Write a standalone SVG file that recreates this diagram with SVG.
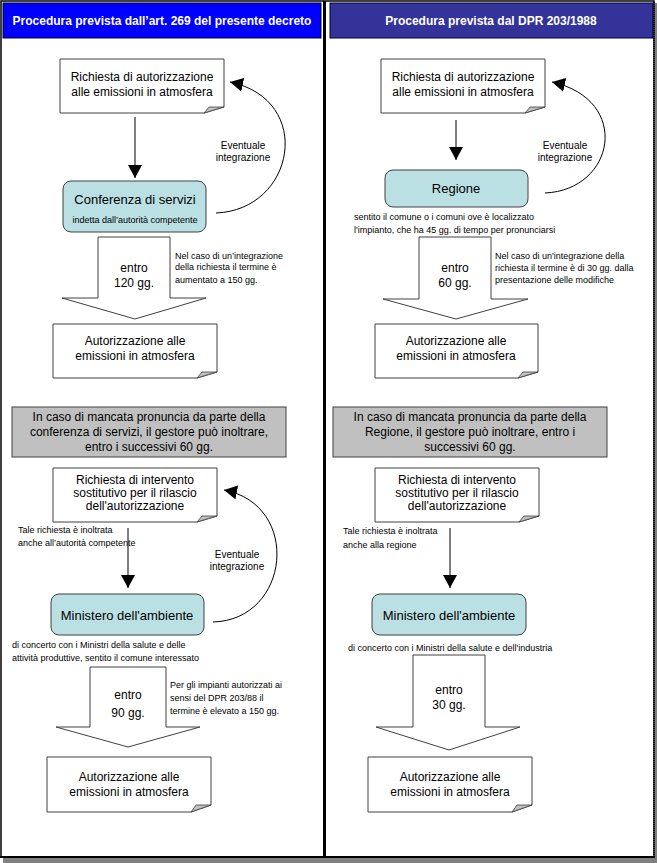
<svg xmlns="http://www.w3.org/2000/svg" width="657" height="863" viewBox="0 0 657 863">
<defs>
<style>
.t{font-family:"Liberation Sans",Arial,sans-serif;fill:#000;}
.box{font-size:12px;text-anchor:middle;}
.note{font-size:9px;}
.ttl{font-family:"Liberation Sans",Arial,sans-serif;font-size:12px;font-weight:bold;fill:#fff;text-anchor:middle;}
.doc{fill:#fff;stroke:#404040;stroke-width:1;}
.curl{fill:#c0c0c0;stroke:#404040;stroke-width:0.8;}
.org{fill:#bbe0e3;stroke:#404040;stroke-width:1;}
.gray{fill:#c0c0c0;stroke:#404040;stroke-width:1;}
.blk{fill:#fff;stroke:#404040;stroke-width:1;}
.ln{fill:none;stroke:#000;stroke-width:1;}
</style>
<marker id="ah" markerUnits="userSpaceOnUse" markerWidth="14" markerHeight="14" viewBox="0 0 14 14" refX="13" refY="7" orient="auto">
<path d="M0,0 L13,7 L0,14 Z" fill="#000"/>
</marker>
</defs>
<rect x="0" y="0" width="657" height="863" fill="#fff"/>
<rect x="3" y="858" width="654" height="5" fill="#808080"/>
<rect x="655" y="3" width="2" height="860" fill="#808080"/>
<g id="frame">
<rect x="1" y="1" width="653" height="856" fill="none" stroke="#000" stroke-width="1.5"/>
<line x1="324.5" y1="1" x2="324.5" y2="857" stroke="#000" stroke-width="3"/>
<line x1="654" y1="2" x2="654" y2="857" stroke="#000" stroke-width="1.5" stroke-dasharray="1,1"/>
<line x1="0" y1="857" x2="655" y2="857" stroke="#000" stroke-width="2"/>
</g>
<g id="header-left">
<rect x="3" y="3" width="318" height="35" fill="#0000ff" stroke="#000033" stroke-width="1"/>
<text class="ttl" x="162" y="25">Procedura prevista dall’art. 269 del presente decreto</text>
</g>
<g id="header-right">
<rect x="330" y="3" width="323" height="35" fill="#333399" stroke="#000033" stroke-width="1"/>
<text class="ttl" x="491" y="25">Procedura prevista dal DPR 203/1988</text>
</g>

<g id="connectors">
<line class="ln" x1="135" y1="117" x2="135" y2="178" marker-end="url(#ah)"/>
<path class="ln" d="M216,213 C295,210 315,100 230,82" marker-end="url(#ah)"/>
<line class="ln" x1="456" y1="120" x2="456" y2="160" marker-end="url(#ah)"/>
<path class="ln" d="M545,193 C615,190 632,100 552,82" marker-end="url(#ah)"/>
<line class="ln" x1="128" y1="528" x2="128" y2="588" marker-end="url(#ah)"/>
<path class="ln" d="M213,622 C290,620 302,505 224,490" marker-end="url(#ah)"/>
<line class="ln" x1="450" y1="528" x2="450" y2="588" marker-end="url(#ah)"/>
</g>

<g id="l-richiesta">
<path class="doc" d="M60,59 H224 V107 L204,113 H60 Z"/>
<path class="curl" d="M204,113 L209,107 L224,107 Z"/>
<text class="t box" x="142" y="81">Richiesta di autorizzazione</text>
<text class="t box" x="142" y="96">alle emissioni in atmosfera</text>
</g>
<g id="l-eventuale1">
<text class="t box" x="243" y="149" style="font-size:10px">Eventuale</text>
<text class="t box" x="243" y="161" style="font-size:10px">integrazione</text>
</g>
<g id="l-conferenza">
<rect class="org" x="63" y="181" width="143" height="51" rx="8"/>
<text class="t box" x="135" y="204" style="font-size:13px">Conferenza di servizi</text>
<text class="t box" x="135" y="223" style="font-size:9px">indetta dall’autorità competente</text>
</g>
<g id="l-entro120">
<path class="blk" d="M98,237 H170 V298 H206 L135,319 L62,298 H98 Z"/>
<text class="t box" x="134" y="272">entro</text>
<text class="t box" x="134" y="287">120 gg.</text>
</g>
<g id="l-note1">
<text class="t note" x="175" y="259">Nel caso di un’integrazione</text>
<text class="t note" x="175" y="270">della richiesta il termine è</text>
<text class="t note" x="175" y="283">aumentato a 150 gg.</text>
</g>
<g id="l-autorizzazione1">
<path class="doc" d="M53,324 H217 V372 L197,378 H53 Z"/>
<path class="curl" d="M197,378 L202,372 L217,372 Z"/>
<text class="t box" x="135" y="345">Autorizzazione alle</text>
<text class="t box" x="135" y="360">emissioni in atmosfera</text>
</g>
<g id="l-mancata">
<rect class="gray" x="12" y="407" width="274" height="50"/>
<text class="t box" x="149" y="421">In caso di mancata pronuncia da parte della</text>
<text class="t box" x="149" y="436">conferenza di servizi, il gestore può inoltrare,</text>
<text class="t box" x="149" y="451">entro i successivi 60 gg.</text>
</g>
<g id="l-intervento">
<path class="doc" d="M53,468 H217 V516 L197,522 H53 Z"/>
<path class="curl" d="M197,522 L202,516 L217,516 Z"/>
<text class="t box" x="135" y="484">Richiesta di intervento</text>
<text class="t box" x="135" y="497">sostitutivo per il rilascio</text>
<text class="t box" x="135" y="510">dell'autorizzazione</text>
</g>
<g id="l-tale">
<text class="t note" x="18" y="533">Tale richiesta è inoltrata</text>
<text class="t note" x="18" y="546">anche all’autorità competente</text>
</g>
<g id="l-eventuale2">
<text class="t box" x="237" y="558" style="font-size:10px">Eventuale</text>
<text class="t box" x="237" y="570" style="font-size:10px">integrazione</text>
</g>
<g id="l-ministero">
<rect class="org" x="51" y="594" width="153" height="41" rx="8"/>
<text class="t box" x="127" y="620" style="font-size:13px">Ministero dell'ambiente</text>
</g>
<g id="l-concerto">
<text class="t note" x="12" y="648">di concerto con i Ministri della salute e delle</text>
<text class="t note" x="12" y="661">attività produttive, sentito il comune interessato</text>
</g>
<g id="l-entro90">
<path class="blk" d="M90,667 H166 V727 H200 L128,747 L56,727 H90 Z"/>
<text class="t box" x="128" y="699">entro</text>
<text class="t box" x="128" y="717">90 gg.</text>
</g>
<g id="l-note2">
<text class="t note" x="170" y="688">Per gli impianti autorizzati ai</text>
<text class="t note" x="170" y="701">sensi del DPR 203/88 il</text>
<text class="t note" x="170" y="714">termine è elevato a 150 gg.</text>
</g>
<g id="l-autorizzazione2">
<path class="doc" d="M47,757 H211 V805 L191,812 H47 Z"/>
<path class="curl" d="M191,812 L196,805 L211,805 Z"/>
<text class="t box" x="129" y="781">Autorizzazione alle</text>
<text class="t box" x="129" y="796">emissioni in atmosfera</text>
</g>

<g id="r-richiesta">
<path class="doc" d="M381,59 H545 V107 L525,113 H381 Z"/>
<path class="curl" d="M525,113 L530,107 L545,107 Z"/>
<text class="t box" x="463" y="81">Richiesta di autorizzazione</text>
<text class="t box" x="463" y="96">alle emissioni in atmosfera</text>
</g>
<g id="r-eventuale">
<text class="t box" x="565" y="149" style="font-size:10px">Eventuale</text>
<text class="t box" x="565" y="161" style="font-size:10px">integrazione</text>
</g>
<g id="r-regione">
<rect class="org" x="385" y="170" width="143" height="37" rx="8"/>
<text class="t box" x="456" y="193" style="font-size:13px">Regione</text>
</g>
<g id="r-sentito">
<text class="t note" x="354" y="220">sentito il comune o i comuni ove è localizzato</text>
<text class="t note" x="354" y="233">l'impianto, che ha 45 gg. di tempo per pronunciarsi</text>
</g>
<g id="r-entro60">
<path class="blk" d="M419,237 H491 V299 H528 L456,319 L383,299 H419 Z"/>
<text class="t box" x="455" y="272">entro</text>
<text class="t box" x="455" y="287">60 gg.</text>
</g>
<g id="r-note1">
<text class="t note" x="495" y="259">Nel caso di un'integrazione della</text>
<text class="t note" x="495" y="271">richiesta il termine è di 30 gg. dalla</text>
<text class="t note" x="495" y="283">presentazione delle modifiche</text>
</g>
<g id="r-autorizzazione1">
<path class="doc" d="M375,324 H538 V372 L518,378 H375 Z"/>
<path class="curl" d="M518,378 L523,372 L538,372 Z"/>
<text class="t box" x="456" y="345">Autorizzazione alle</text>
<text class="t box" x="456" y="360">emissioni in atmosfera</text>
</g>
<g id="r-mancata">
<rect class="gray" x="333" y="407" width="274" height="50"/>
<text class="t box" x="470" y="421">In caso di mancata pronuncia da parte della</text>
<text class="t box" x="470" y="436">Regione, il gestore può inoltrare, entro i</text>
<text class="t box" x="470" y="451">successivi 60 gg.</text>
</g>
<g id="r-intervento">
<path class="doc" d="M375,468 H539 V516 L519,522 H375 Z"/>
<path class="curl" d="M519,522 L524,516 L539,516 Z"/>
<text class="t box" x="457" y="484">Richiesta di intervento</text>
<text class="t box" x="457" y="497">sostitutivo per il rilascio</text>
<text class="t box" x="457" y="510">dell'autorizzazione</text>
</g>
<g id="r-tale">
<text class="t note" x="343" y="534">Tale richiesta è inoltrata</text>
<text class="t note" x="343" y="548">anche alla regione</text>
</g>
<g id="r-ministero">
<rect class="org" x="372" y="594" width="154" height="41" rx="8"/>
<text class="t box" x="449" y="620" style="font-size:13px">Ministero dell'ambiente</text>
</g>
<g id="r-concerto">
<text class="t note" x="348" y="651">di concerto con i Ministri della salute e dell'industria</text>
</g>
<g id="r-entro30">
<path class="blk" d="M413,655 H485 V727 H520 L449,750 L376,727 H413 Z"/>
<text class="t box" x="449" y="694">entro</text>
<text class="t box" x="449" y="709">30 gg.</text>
</g>
<g id="r-autorizzazione2">
<path class="doc" d="M368,757 H532 V805 L512,812 H368 Z"/>
<path class="curl" d="M512,812 L517,805 L532,805 Z"/>
<text class="t box" x="450" y="781">Autorizzazione alle</text>
<text class="t box" x="450" y="796">emissioni in atmosfera</text>
</g>
</svg>
